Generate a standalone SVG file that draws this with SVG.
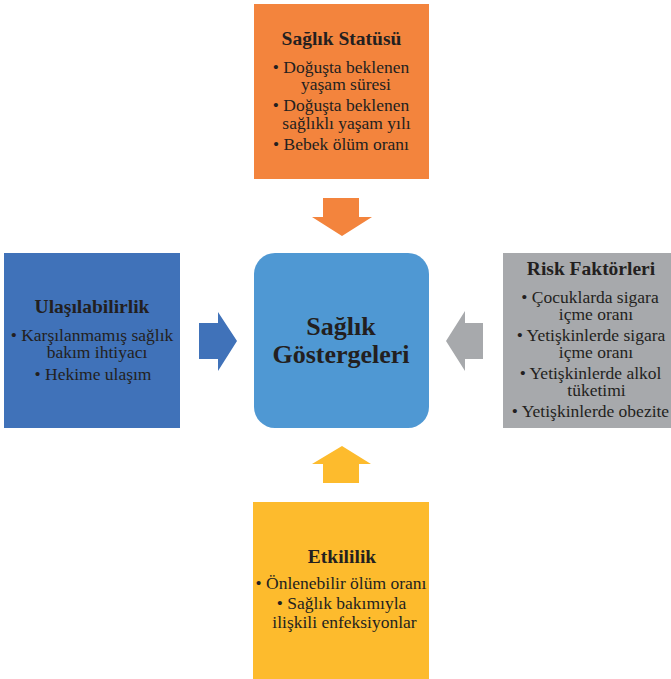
<svg xmlns="http://www.w3.org/2000/svg" width="671" height="679" viewBox="0 0 671 679">
<style>
  text { font-family: "Liberation Serif", "Times New Roman", serif; fill: #231F20; text-anchor: middle; }
  .t { font-weight: bold; font-size: 19.5px; }
  .b { font-size: 17.5px; }
  .c { font-weight: bold; font-size: 26px; }
</style>
<rect width="671" height="679" fill="#FFFFFF"/>
<g id="connectors">
  <polygon id="arrow-top" fill="#F3843D" points="323,198 359,198 359,217 372,217 342,236 312,217 323,217"/>
  <polygon id="arrow-left" fill="#4072B9" points="199,323 218,323 218,312 237,341 218,371 218,359 199,359"/>
  <polygon id="arrow-right" fill="#A7A9AC" points="483,323 465,323 465,311 446,341 465,371 465,359 483,359"/>
  <polygon id="arrow-bottom" fill="#FDBB2D" points="323,483 359,483 359,464 371,464 342,446 312,464 323,464"/>
</g>
<g id="node-center">
  <rect x="254" y="253" width="175" height="175" rx="21" fill="#4F98D3"/>
  <text class="c"><tspan x="341" y="335">Sağlık</tspan><tspan x="341" y="363">Göstergeleri</tspan></text>
</g>
<g id="node-top">
  <rect x="254" y="4" width="175" height="175" fill="#F3843D"/>
  <text class="t" x="341.5" y="45">Sağlık Statüsü</text>
  <text class="b"><tspan x="341" y="72.5">• Doğuşta beklenen</tspan><tspan x="346" y="89.5">yaşam süresi</tspan></text>
  <text class="b"><tspan x="341" y="111">• Doğuşta beklenen</tspan><tspan x="346.5" y="129">sağlıklı yaşam yılı</tspan></text>
  <text class="b" x="341" y="150">• Bebek ölüm oranı</text>
</g>
<g id="node-left">
  <rect x="4" y="253" width="176" height="175" fill="#4072B9"/>
  <text class="t" x="92" y="313">Ulaşılabilirlik</text>
  <text class="b"><tspan x="92" y="340.5">• Karşılanmamış sağlık</tspan><tspan x="97" y="358">bakım ihtiyacı</tspan></text>
  <text class="b" x="93" y="380">• Hekime ulaşım</text>
</g>
<g id="node-right">
  <rect x="503" y="253" width="176" height="175" fill="#A7A9AC"/>
  <text class="t" x="591" y="275">Risk Faktörleri</text>
  <text class="b"><tspan x="590" y="303">• Çocuklarda sigara</tspan><tspan x="596" y="320">içme oranı</tspan></text>
  <text class="b"><tspan x="591" y="341">• Yetişkinlerde sigara</tspan><tspan x="596" y="358">içme oranı</tspan></text>
  <text class="b"><tspan x="590.5" y="379">• Yetişkinlerde alkol</tspan><tspan x="596.5" y="396">tüketimi</tspan></text>
  <text class="b" x="590.5" y="417">• Yetişkinlerde obezite</text>
</g>
<g id="node-bottom">
  <rect x="253" y="502" width="176" height="177" fill="#FDBB2D"/>
  <text class="t" x="342" y="562.5">Etkililik</text>
  <text class="b" x="341" y="589">• Önlenebilir ölüm oranı</text>
  <text class="b"><tspan x="341.5" y="608.5">• Sağlık bakımıyla</tspan><tspan x="344.5" y="628">ilişkili enfeksiyonlar</tspan></text>
</g>
</svg>
